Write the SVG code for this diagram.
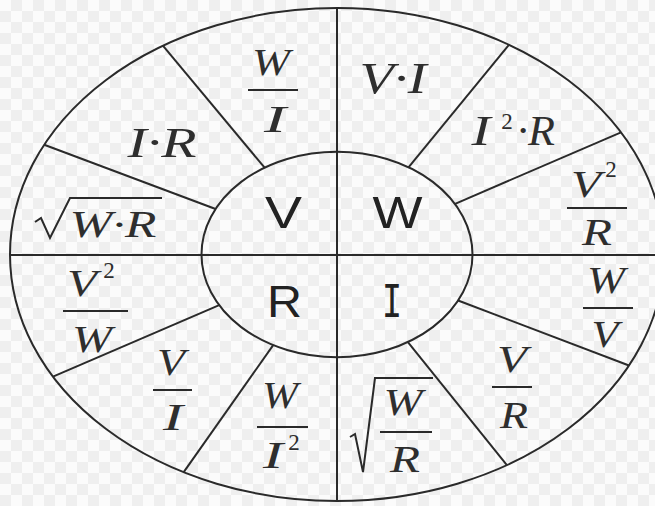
<svg xmlns="http://www.w3.org/2000/svg" width="655" height="506" viewBox="0 0 655 506">
<defs>
<pattern id="chk" width="22" height="22" patternUnits="userSpaceOnUse">
<rect width="22" height="22" fill="#fbfbfb"/>
<rect x="11" y="0" width="11" height="11" fill="#efefef"/>
<rect x="0" y="11" width="11" height="11" fill="#efefef"/>
</pattern>
</defs>
<style>
.ln{stroke:#2a2a2a;stroke-width:2;fill:none}
.m{font-family:"Liberation Serif","Times New Roman",serif;font-style:italic;font-size:38px;fill:#2e2e2e;text-anchor:middle}
.sup{font-family:"Liberation Serif","Times New Roman",serif;font-size:23px;fill:#2e2e2e;text-anchor:middle}
.c{font-family:"Liberation Sans",Arial,sans-serif;font-size:44px;fill:#222;text-anchor:middle}
.ci{font-family:"DejaVu Sans Mono",monospace;font-size:44px;fill:#222;text-anchor:middle}
</style>
<rect width="655" height="506" fill="url(#chk)"/>
<g id="connectors">
<ellipse class="ln" cx="337" cy="254.5" rx="327" ry="246.5"/>
<ellipse class="ln" cx="337" cy="254.5" rx="135.5" ry="102.7"/>
<line class="ln" x1="337" y1="8" x2="337" y2="501"/>
<line class="ln" x1="10" y1="255" x2="655" y2="255"/>
<line class="ln" x1="215.6" y1="209" x2="44.2" y2="144.7"/>
<line class="ln" x1="264.6" y1="167.7" x2="163.1" y2="45.8"/>
<line class="ln" x1="408.5" y1="167.3" x2="508.9" y2="44.8"/>
<line class="ln" x1="455.1" y1="203.8" x2="621" y2="132.4"/>
<line class="ln" x1="219.2" y1="305.2" x2="53" y2="376.6"/>
<line class="ln" x1="273.2" y1="345.1" x2="183.7" y2="472.2"/>
<line class="ln" x1="458.1" y1="300.5" x2="629" y2="365.5"/>
<line class="ln" x1="407.9" y1="342.1" x2="506.9" y2="465.2"/>
</g>
<g id="center-V"><text class="c" x="283.5" y="228" textLength="37" lengthAdjust="spacingAndGlyphs">V</text></g>
<g id="center-W"><text class="c" x="397.5" y="228" textLength="50" lengthAdjust="spacingAndGlyphs">W</text></g>
<g id="center-R"><text class="c" x="284.5" y="317" textLength="35" lengthAdjust="spacingAndGlyphs">R</text></g>
<g id="center-I"><text class="ci" x="392" y="317" textLength="20" lengthAdjust="spacingAndGlyphs">I</text></g>
<g id="v-w-over-i">
<text class="m" x="271" y="75" textLength="38" lengthAdjust="spacingAndGlyphs">W</text>
<line class="ln" x1="248" y1="90" x2="298" y2="90"/>
<text class="m" x="275" y="132" textLength="22" lengthAdjust="spacingAndGlyphs">I</text>
</g>
<g id="v-i-r"><text class="m" x="162" y="157" style="font-size:43px" textLength="69" lengthAdjust="spacingAndGlyphs">I·R</text></g>
<g id="v-sqrt-wr">
<path class="ln" d="M35,222 L41,218 L50,238 L70,198 L162,198"/>
<text class="m" x="113" y="237" textLength="87" lengthAdjust="spacingAndGlyphs">W·R</text>
</g>
<g id="w-v-i"><text class="m" x="393" y="93" style="font-size:44px" textLength="67" lengthAdjust="spacingAndGlyphs">V·I</text></g>
<g id="w-i2-r">
<text class="m" x="481" y="145" style="font-size:42px" textLength="19" lengthAdjust="spacingAndGlyphs">I</text>
<text class="sup" x="507" y="129">2</text>
<text class="m" x="536" y="145" style="font-size:42px" textLength="38" lengthAdjust="spacingAndGlyphs">·R</text>
</g>
<g id="w-v2-over-r">
<text class="m" x="586" y="197" textLength="30" lengthAdjust="spacingAndGlyphs">V</text>
<text class="sup" x="611" y="177">2</text>
<line class="ln" x1="567" y1="208" x2="627" y2="208"/>
<text class="m" x="597" y="245" textLength="30" lengthAdjust="spacingAndGlyphs">R</text>
</g>
<g id="r-v2-over-w">
<text class="m" x="82" y="296" textLength="30" lengthAdjust="spacingAndGlyphs">V</text>
<text class="sup" x="109" y="278">2</text>
<line class="ln" x1="63" y1="311" x2="128" y2="311"/>
<text class="m" x="92" y="352" textLength="40" lengthAdjust="spacingAndGlyphs">W</text>
</g>
<g id="r-v-over-i">
<text class="m" x="171" y="375" textLength="28" lengthAdjust="spacingAndGlyphs">V</text>
<line class="ln" x1="153" y1="390" x2="192" y2="390"/>
<text class="m" x="173" y="430" textLength="20" lengthAdjust="spacingAndGlyphs">I</text>
</g>
<g id="r-w-over-i2">
<text class="m" x="280" y="408" textLength="36" lengthAdjust="spacingAndGlyphs">W</text>
<line class="ln" x1="257" y1="427" x2="308" y2="427"/>
<text class="m" x="273" y="468" textLength="20" lengthAdjust="spacingAndGlyphs">I</text>
<text class="sup" x="294" y="450">2</text>
</g>
<g id="i-w-over-v">
<text class="m" x="606" y="293" textLength="38" lengthAdjust="spacingAndGlyphs">W</text>
<line class="ln" x1="583" y1="308" x2="633" y2="308"/>
<text class="m" x="605" y="347" textLength="27" lengthAdjust="spacingAndGlyphs">V</text>
</g>
<g id="i-v-over-r">
<text class="m" x="512" y="372" textLength="30" lengthAdjust="spacingAndGlyphs">V</text>
<line class="ln" x1="492" y1="387" x2="532" y2="387"/>
<text class="m" x="514" y="428" textLength="28" lengthAdjust="spacingAndGlyphs">R</text>
</g>
<g id="i-sqrt-w-over-r">
<path class="ln" d="M350,437 L355,434 L363,472 L375,378 L433,378"/>
<text class="m" x="403" y="415" textLength="39" lengthAdjust="spacingAndGlyphs">W</text>
<line class="ln" x1="380" y1="432" x2="432" y2="432"/>
<text class="m" x="405" y="472" textLength="30" lengthAdjust="spacingAndGlyphs">R</text>
</g>
</svg>
